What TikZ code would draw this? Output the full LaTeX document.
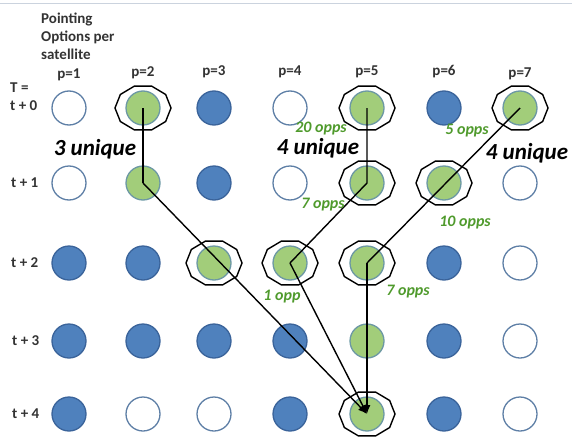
\documentclass[tikz,border=0pt]{standalone}
\usepackage{fontspec}
\setmainfont{Carlito}
\usetikzlibrary{arrows.meta}
\definecolor{bluefill}{HTML}{4F81BD}
\definecolor{blueedge}{HTML}{3A639A}
\definecolor{greenfill}{HTML}{A2CD7A}
\definecolor{greenedge}{HTML}{6C98A4}
\definecolor{emptyedge}{HTML}{5E7FA6}
\definecolor{oppgreen}{HTML}{4F9A2C}
\definecolor{labgray}{HTML}{333333}
\definecolor{topline}{HTML}{CBD3DE}
\tikzset{
  dot/.style={circle, minimum size=34pt, inner sep=0pt, line width=1.3pt},
  bdot/.style={dot, fill=bluefill, draw=blueedge},
  gdot/.style={dot, fill=greenfill, draw=greenedge},
  edot/.style={dot, fill=white, draw=emptyedge},
  ringline/.style={draw=black, line width=1.4pt},
  path/.style={draw=black, line width=1.4pt},
  arr/.style={path, -{Latex[length=9pt,width=7pt]}},
  lab/.style={font=\fontsize{15}{18}\selectfont\bfseries, text=labgray, inner sep=0pt},
  uniq/.style={font=\fontsize{23}{25}\selectfont\bfseries\itshape, text=black, inner sep=0pt},
  opps/.style={font=\fontsize{16}{18}\selectfont\bfseries\itshape, text=oppgreen, inner sep=0pt}
}
\newcommand\ringat[1]{\draw[ringline, shift={(#1.center)}] plot[samples at={0,36,...,324}] (\x:28 and 23) -- cycle;}
\begin{document}
\begin{tikzpicture}[x=1pt,y=-1pt]
\useasboundingbox (0,0) rectangle (572,436);
\coordinate (tl) at (0,4);
\coordinate (tr) at (572,4);
\draw[topline, line width=1pt] (tl) -- (tr);
% circles: row r, column c
\def\ya{108}\def\yb{183}\def\yc{263}\def\yd{341}\def\ye{414}
% row 0
\node[edot] (c01) at (69,\ya) {};
\node[gdot] (c02) at (143,\ya) {};
\node[bdot] (c03) at (214,\ya) {};
\node[edot] (c04) at (290,\ya) {};
\node[gdot] (c05) at (367,\ya) {};
\node[bdot] (c06) at (444,\ya) {};
\node[gdot] (c07) at (520,\ya) {};
% row 1
\node[edot] (c11) at (69,\yb) {};
\node[gdot] (c12) at (143,\yb) {};
\node[bdot] (c13) at (214,\yb) {};
\node[edot] (c14) at (290,\yb) {};
\node[gdot] (c15) at (367,\yb) {};
\node[gdot] (c16) at (444,\yb) {};
\node[edot] (c17) at (520,\yb) {};
% row 2
\node[bdot] (c21) at (69,\yc) {};
\node[bdot] (c22) at (143,\yc) {};
\node[gdot] (c23) at (214,\yc) {};
\node[gdot] (c24) at (290,\yc) {};
\node[gdot] (c25) at (367,\yc) {};
\node[bdot] (c26) at (444,\yc) {};
\node[edot] (c27) at (520,\yc) {};
% row 3
\node[bdot] (c31) at (69,\yd) {};
\node[bdot] (c32) at (143,\yd) {};
\node[bdot] (c33) at (214,\yd) {};
\node[bdot] (c34) at (290,\yd) {};
\node[gdot] (c35) at (367,\yd) {};
\node[bdot] (c36) at (444,\yd) {};
\node[edot] (c37) at (520,\yd) {};
% row 4
\node[bdot] (c41) at (69,\ye) {};
\node[edot] (c42) at (143,\ye) {};
\node[edot] (c43) at (214,\ye) {};
\node[bdot] (c44) at (290,\ye) {};
\node[gdot] (c45) at (367,\ye) {};
\node[bdot] (c46) at (444,\ye) {};
\node[edot] (c47) at (520,\ye) {};
% rings
\ringat{c02}\ringat{c05}\ringat{c07}
\ringat{c15}\ringat{c16}
\ringat{c23}\ringat{c24}\ringat{c25}
\ringat{c45}
% paths
\draw[path] (c02.center) -- (c12.center);
\draw[arr] (c12.center) -- (c45.center);
\draw[path] (c05.center) -- (c15.center) -- (c24.center);
\draw[arr] (c24.center) -- (c45.center);
\draw[path] (c07.center) -- (c25.center);
\draw[arr] (c25.center) -- (c45.center);
% header texts
\node[lab, anchor=north west, align=left, font=\fontsize{15}{18}\selectfont\bfseries] (hdr) at (41,13) {Pointing\\Options per\\satellite};
\node[lab] (p1) at (69,75) {p=1};
\node[lab] (p2) at (143,73) {p=2};
\node[lab] (p3) at (214,72) {p=3};
\node[lab] (p4) at (290,72) {p=4};
\node[lab] (p5) at (367,72) {p=5};
\node[lab] (p6) at (444,72) {p=6};
\node[lab] (p7) at (520,74) {p=7};
\node[lab, anchor=west] (tT) at (10,88) {T =};
\node[lab, anchor=west] (t0) at (10,106) {t + 0};
\node[lab, anchor=west] (t1) at (11,183) {t + 1};
\node[lab, anchor=west] (t2) at (11,263) {t + 2};
\node[lab, anchor=west] (t3) at (12,341) {t + 3};
\node[lab, anchor=west] (t4) at (12,414) {t + 4};
% unique texts
\node[uniq] (u1) at (95,149) {3 unique};
\node[uniq] (u2) at (318,148) {4 unique};
\node[uniq] (u3) at (527,153) {4 unique};
% opps
\node[opps] (o1) at (321,129) {20 opps};
\node[opps] (o2) at (467,131) {5 opps};
\node[opps] (o3) at (323,205) {7 opps};
\node[opps] (o4) at (465,223) {10 opps};
\node[opps] (o5) at (282,297) {1 opp};
\node[opps] (o6) at (408,292) {7 opps};
\end{tikzpicture}
\end{document}
